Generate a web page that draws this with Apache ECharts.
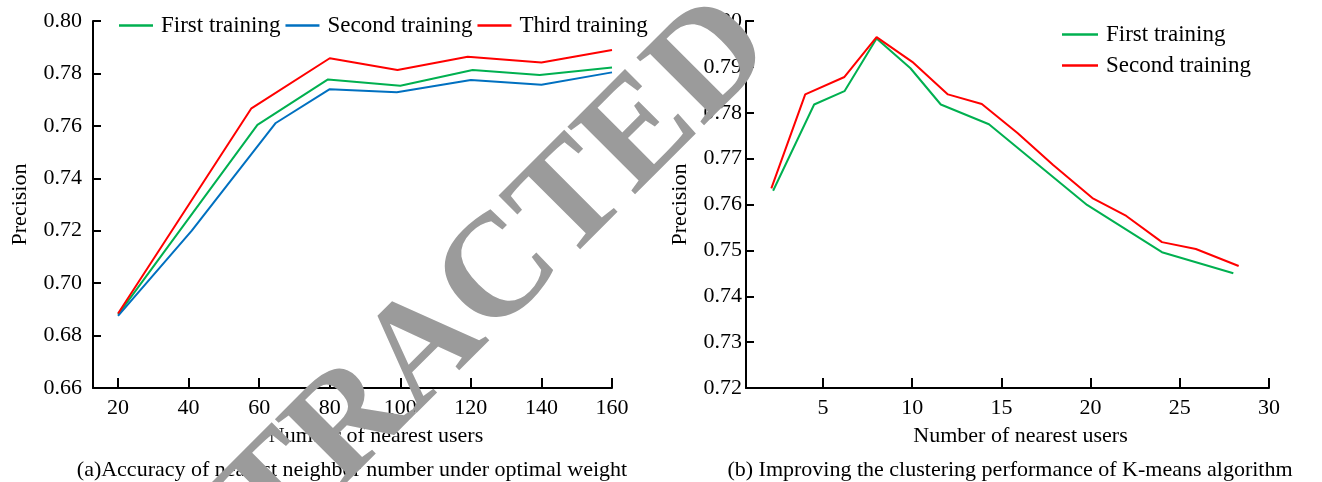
<!DOCTYPE html>
<html>
<head>
<meta charset="utf-8">
<script src="https://cdn.jsdelivr.net/npm/echarts@6/dist/echarts.min.js"></script>
<style>
  html, body { margin: 0; padding: 0; background: #fff; }
  #chart { width: 1322px; height: 482px; }
</style>
</head>
<body>
<div id="chart"></div>
<script>
// (a) precision vs. number of nearest users under the optimal weight
const aXTicks = [20, 40, 60, 80, 100, 120, 140, 160];
const aFirstX = [20, 59.5, 79.5, 100, 120.5, 139.5, 160];
const aFirstY = [0.688, 0.7604, 0.7777, 0.7753, 0.7813, 0.7794, 0.7823];
const aSecondX = [20, 40.9, 64.7, 80, 99, 120, 140, 160];
const aSecondY = [0.6875, 0.72, 0.7611, 0.774, 0.7728, 0.7775, 0.7757, 0.7804];
const aThirdX = [20, 57.8, 80, 99.2, 119.1, 140, 160];
const aThirdY = [0.6884, 0.7667, 0.7858, 0.7813, 0.7864, 0.7842, 0.7889];

// (b) improved K-means clustering
const bXTicks = [5, 10, 15, 20, 25, 30];
const bFirstX = [2.2, 4.5, 6.2, 8, 9.9, 11.6, 14.3, 19.8, 24, 28];
const bFirstY = [0.763, 0.7818, 0.7847, 0.7962, 0.7897, 0.7818, 0.7775, 0.7599, 0.7496, 0.745];
const bSecondX = [2.1, 4, 6.2, 8, 10, 12, 13.9, 15.9, 17.9, 20.1, 22, 24, 25.9, 28.3];
const bSecondY = [0.7635, 0.784, 0.7878, 0.7965, 0.7911, 0.784, 0.7819, 0.7756, 0.7686, 0.7614, 0.7575, 0.7518, 0.7503, 0.7466];

const labelsA = ['First training', 'Second training', 'Third training'];
const labelsB = ['First training', 'Second training'];
const captionA = '(a)Accuracy of nearest neighbor number under optimal weight';
const captionB = '(b) Improving the clustering performance of K-means algorithm';
const xName = 'Number of nearest users';
const yName = 'Precision';
const stamp = 'RETRACTED';

const FONT = '"Liberation Serif", "Times New Roman", serif';
const GREEN = '#00b050', BLUE = '#0070c0', RED = '#ff0000';

const zip = (xs, ys) => xs.map((x, i) => [x, ys[i]]);

const axisLine = { show: true, onZero: false, lineStyle: { color: '#000', width: 2 } };
const txt = { color: '#000', fontFamily: FONT, fontSize: 22 };
const legendTxt = { color: '#000', fontFamily: FONT, fontSize: 23, padding: [0, 0, 0, 3] };

function xAxisCfg(grid, min, max, ticks, padLeft) {
  return {
    type: 'value', gridIndex: grid, min: min, max: max,
    axisLine: axisLine,
    axisTick: { show: true, inside: true, length: 10, lineStyle: { color: '#000', width: 2 }, customValues: ticks },
    axisLabel: Object.assign({ margin: 9, customValues: ticks }, txt),
    splitLine: { show: false },
    name: xName, nameLocation: 'middle', nameGap: 37,
    nameTextStyle: Object.assign({ padding: [0, 0, 0, padLeft] }, txt)
  };
}

function yAxisCfg(grid, min, max, step, margin, gap) {
  return {
    type: 'value', gridIndex: grid, min: min, max: max, interval: step,
    axisLine: axisLine,
    axisTick: { show: true, inside: true, length: 8, lineStyle: { color: '#000', width: 2 } },
    axisLabel: Object.assign({ margin: margin, formatter: v => v.toFixed(2) }, txt),
    splitLine: { show: false },
    name: yName, nameLocation: 'middle', nameGap: gap, nameRotate: 90,
    nameTextStyle: txt
  };
}

function line(name, xi, data, color) {
  return {
    name: name, type: 'line', xAxisIndex: xi, yAxisIndex: xi, data: data,
    symbol: 'none', showSymbol: false, lineStyle: { color: color, width: 2 },
    itemStyle: { color: color }
  };
}

const chart = echarts.init(document.getElementById('chart'), null, { renderer: 'canvas' });
chart.setOption({
  animation: false,
  backgroundColor: '#fff',
  grid: [
    { left: 93, top: 21, right: 710, bottom: 94 },
    { left: 746, top: 21, right: 53, bottom: 94 }
  ],
  legend: [
    {
      data: labelsA, orient: 'horizontal', left: 114, top: 9,
      icon: 'rect', itemWidth: 34, itemHeight: 2.5, itemGap: 5,
      textStyle: legendTxt, selectedMode: false
    },
    {
      data: labelsB.map(n => n + ' '), orient: 'vertical', left: 1057, top: 18,
      icon: 'rect', itemWidth: 36, itemHeight: 2.5, itemGap: 8,
      textStyle: legendTxt, selectedMode: false
    }
  ],
  xAxis: [
    xAxisCfg(0, 12.9, 160, aXTicks, 47),
    xAxisCfg(1, 0.68, 30, bXTicks, 26)
  ],
  yAxis: [
    yAxisCfg(0, 0.66, 0.80, 0.02, 11, 62),
    yAxisCfg(1, 0.72, 0.80, 0.01, 4, 55)
  ],
  series: [
    line(labelsA[0], 0, zip(aFirstX, aFirstY), GREEN),
    line(labelsA[1], 0, zip(aSecondX, aSecondY), BLUE),
    line(labelsA[2], 0, zip(aThirdX, aThirdY), RED),
    line(labelsB[0] + ' ', 1, zip(bFirstX, bFirstY), GREEN),
    line(labelsB[1] + ' ', 1, zip(bSecondX, bSecondY), RED)
  ],
  graphic: [
    {
      type: 'text', z: 10,
      style: { x: 352, y: 470, text: captionA, align: 'center', verticalAlign: 'middle',
               font: '22px ' + FONT, fill: '#000' }
    },
    {
      type: 'text', z: 10,
      style: { x: 1010, y: 470, text: captionB, align: 'center', verticalAlign: 'middle',
               font: '22px ' + FONT, fill: '#000' }
    },
    {
      type: 'text', z: 200, x: 426, y: 350, rotation: 45 * Math.PI / 180,
      style: { x: 0, y: 0, text: stamp, align: 'center', verticalAlign: 'middle',
               font: 'bold 146px ' + FONT, fill: '#9b9b9b' }
    }
  ]
});
</script>
</body>
</html>
